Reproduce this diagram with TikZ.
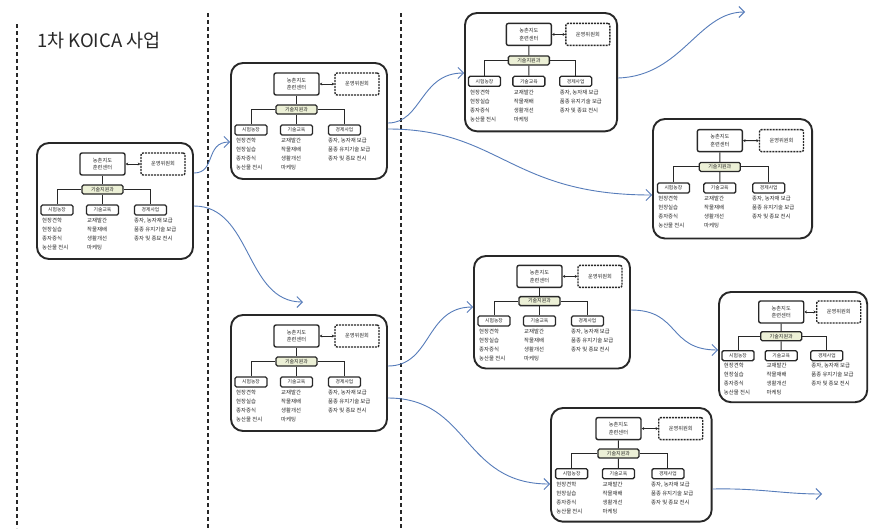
\documentclass[tikz,border=0pt]{standalone}
\usepackage{fontspec}
\setmainfont{Noto Sans CJK KR}
\usetikzlibrary{arrows.meta}

\definecolor{flowblue}{RGB}{86,124,186}
\definecolor{midfill}{RGB}{236,240,214}
\definecolor{ink}{RGB}{40,40,40}

\tikzset{
  frame/.style={draw=ink, line width=1.9pt, rounded corners=12pt,
    minimum width=156pt, minimum height=116pt, inner sep=0pt, transform shape},
  mainbox/.style={draw=ink, line width=1.4pt, rounded corners=2pt, inner sep=0pt,
    minimum width=45pt, minimum height=22pt, align=center,
    font=\fontsize{5.2}{7.5}\selectfont, text=ink},
  combox/.style={draw=ink, line width=1.4pt, dash pattern=on 2pt off 1pt,
    rounded corners=2pt, inner sep=0pt, minimum width=44pt, minimum height=22pt,
    font=\fontsize{5.2}{6}\selectfont, text=ink},
  midbox/.style={draw=ink, line width=1.3pt, fill=midfill, rounded corners=1.5pt,
    inner sep=0pt, minimum width=41pt, minimum height=9pt,
    font=\fontsize{5}{6}\selectfont, text=ink},
  sidebox/.style={draw=ink, line width=1.3pt, rounded corners=1.5pt, inner sep=0pt,
    minimum width=32pt, minimum height=10pt,
    font=\fontsize{4.8}{6}\selectfont, text=ink},
  listtext/.style={anchor=north west, inner sep=0pt, align=left,
    font=\fontsize{5.4}{9}\selectfont, text=ink},
  link/.style={draw=ink, line width=1pt},
  vsep/.style={draw=ink, line width=1.3pt, dash pattern=on 4pt off 3pt},
  flow/.style={draw=flowblue, line width=0.9pt, -{Straight Barb[length=5.5pt,width=11pt]}},
  pics/unit/.style={code={
    \node[frame] (-frame) at (78,58) {};
    \node[mainbox] (-main) at (65.5,21) {농촌지도\\훈련센터};
    \node[combox] (-com) at (126,21) {운영위원회};
    \node[midbox] (-mid) at (65.5,46.5) {기술지원과};
    \node[sidebox] (-sa) at (20,67) {시험농장};
    \node[sidebox] (-sb) at (65.5,67) {기술교육};
    \node[sidebox] (-sc) at (113.5,67) {경제사업};
    \draw[link] (-main) -- (-mid);
    \draw[link] (-mid) -- (-sb);
    \draw[link] (-mid.west) -| (-sa.north);
    \draw[link] (-mid.east) -| (-sc.north);
    \draw[draw=ink, line width=0.8pt,
      {Stealth[length=2.5pt,width=3pt]}-{Stealth[length=2.5pt,width=3pt]}]
      (-main) -- (-com);
    \node[listtext] (-la) at (5,75) {현장견학\\현장실습\\종자증식\\농산물 전시};
    \node[listtext] (-lb) at (50,75) {교재발간\\작물재배\\생활개선\\마케팅};
    \node[listtext] (-lc) at (97,75) {종자, 농자재 보급\\품종 유지기술 보급\\종자 및 종묘 전시};
  }}
}

\begin{document}
\begin{tikzpicture}[x=1pt, y=-1pt]
  \useasboundingbox[fill=white] (0,0) rectangle (883,528);

  % phase separators
  \draw[vsep] (17,24) -- (17,528);
  \draw[vsep] (208,13) -- (208,528);
  \draw[vsep] (401,13) -- (401,528);

  \node[anchor=base west, inner sep=0pt, font=\fontsize{18.5}{22}\selectfont, text=ink]
    (title) at (37,47) {1차 KOICA 사업};

  % training-centre units
  \pic (b1) at (37,143) {unit};
  \pic (b2) at (231,63) {unit};
  \pic (b3) at (231,315) {unit};
  \pic[yscale=1.02, xscale=0.975] (b4) at (465,13) {unit};
  \pic[xscale=1.02, yscale=1.03] (b5) at (653,119) {unit};
  \pic[yscale=0.97] (b6) at (474,256) {unit};
  \pic[xscale=0.95, yscale=0.95] (b7) at (719,292) {unit};
  \pic[xscale=1.03, yscale=0.98] (b8) at (551,408) {unit};

  % open ends of the outgoing arrows
  \coordinate (tipB) at (303,302);
  \coordinate (tipE) at (745,12);
  \coordinate (tipI) at (822,494);

  % expansion arrows
  \draw[flow] (b1-frame.east |- 0,173) .. controls (216,173) and (205,142) .. (b2-frame.west |- 0,142);
  \draw[flow] (b1-frame.east |- 0,206) .. controls (252,206) and (245,302) .. (tipB);
  \draw[flow] (b2-frame.east |- 0,123) .. controls (422,123) and (420,73) .. (b4-frame.west |- 0,73);
  \draw[flow] (b2-frame.east |- 0,129) .. controls (500,129) and (510,195) .. (b5-frame.west |- 0,195);
  \draw[flow] (b4-frame.east |- 0,78) .. controls (682,76) and (698,12) .. (tipE);
  \draw[flow] (b3-frame.east |- 0,366) .. controls (432,366) and (425,307) .. (b6-frame.west |- 0,307);
  \draw[flow] (b3-frame.east |- 0,398) .. controls (470,398) and (462,484) .. (b8-frame.west |- 0,484);
  \draw[flow] (b6-frame.east |- 0,310) .. controls (680,310) and (668,350) .. (b7-frame.west |- 0,350);
  \draw[flow] (b8-frame.east |- 0,489) .. controls (760,488) and (782,494) .. (tipI);
\end{tikzpicture}
\end{document}
